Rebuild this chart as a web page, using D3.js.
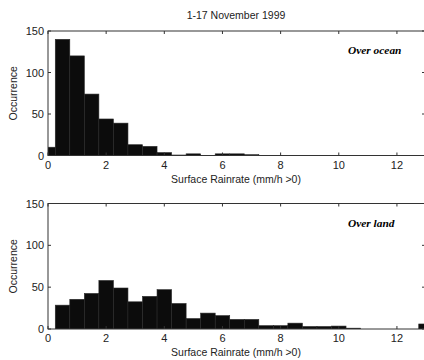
<!DOCTYPE html>
<html>
<head>
<meta charset="utf-8">
<title>Rainrate histograms</title>
<script src="https://d3js.org/d3.v7.min.js"></script>
<style>
body { margin: 0; background: #fff; }
text { font-family: "Liberation Sans", Arial, sans-serif; fill: #222; }
.note { font-family: "Liberation Serif", "Times New Roman", serif; font-weight: bold; font-style: italic; fill: #000; }
</style>
</head>
<body>
<script>
// bin centres (mm/h), bin width 0.5
const binCenters = [0, 0.5, 1, 1.5, 2, 2.5, 3, 3.5, 4, 4.5, 5, 5.5, 6, 6.5, 7, 7.5, 8, 8.5, 9, 9.5, 10, 10.5, 11, 11.5, 12, 12.5, 13]
const oceanCounts = [10, 140, 120, 74, 44, 39, 13, 11, 3.5, 0.6, 2, 0, 2, 2, 1, 0, 0, 0, 0, 0, 0, 0, 0, 0, 0, 0, 0]
const landCounts = [0, 28.5, 35.5, 42.5, 58, 49, 32.5, 39, 47, 30.5, 12.5, 19, 16, 11.5, 11.5, 4, 4, 7, 3, 3, 3.5, 1, 0, 0, 0, 0, 6]
const xTicks = [0, 2, 4, 6, 8, 10, 12]
const yTicks = [0, 50, 100, 150]
const title = "1-17 November 1999"
const xLabel = "Surface Rainrate (mm/h >0)"
const yLabel = "Occurrence"

const W = 424, H = 360
const svg = d3.select("body").append("svg").attr("width", W).attr("height", H)

const x = d3.scaleLinear().domain([0, 13]).range([48, 426])

svg.append("text").attr("x", 236).attr("y", 19).attr("text-anchor", "middle")
  .attr("font-size", 10.5).text(title)

function panel(counts, top, bottom, note, id) {
  const y = d3.scaleLinear().domain([0, 150]).range([bottom, top])
  const clip = svg.append("clipPath").attr("id", id)
  clip.append("rect").attr("x", x(0)).attr("y", top).attr("width", x(13) - x(0)).attr("height", bottom - top)

  const data = binCenters.map((c, i) => ({c: c, v: counts[i]})).filter(d => d.v > 0)
  svg.append("g").attr("clip-path", "url(#" + id + ")")
    .selectAll("rect").data(data).join("rect")
    .attr("x", d => x(d.c - 0.25))
    .attr("width", x(0.5) - x(0))
    .attr("y", d => y(d.v))
    .attr("height", d => y(0) - y(d.v))
    .attr("fill", "#0c0c0c")
    .attr("stroke", "#2a2a2a")
    .attr("stroke-width", 0.6)

  const g = svg.append("g").attr("stroke", "#333").attr("fill", "none")
  g.append("rect").attr("x", x(0)).attr("y", top).attr("width", x(13) - x(0)).attr("height", bottom - top)
    .attr("stroke-width", 1)

  // inward ticks, MATLAB-style
  xTicks.forEach(t => {
    g.append("line").attr("x1", x(t)).attr("x2", x(t)).attr("y1", bottom).attr("y2", bottom - 3)
    g.append("line").attr("x1", x(t)).attr("x2", x(t)).attr("y1", top).attr("y2", top + 3)
  })
  yTicks.forEach(t => {
    g.append("line").attr("x1", x(0)).attr("x2", x(0) + 3).attr("y1", y(t)).attr("y2", y(t))
    g.append("line").attr("x1", x(13)).attr("x2", x(13) - 4).attr("y1", y(t)).attr("y2", y(t))
  })

  svg.append("g").selectAll("text").data(xTicks).join("text")
    .attr("x", d => x(d)).attr("y", bottom + 13).attr("text-anchor", "middle")
    .attr("font-size", 11).text(d => d)
  svg.append("g").selectAll("text").data(yTicks).join("text")
    .attr("x", 44).attr("y", d => y(d) + 4).attr("text-anchor", "end")
    .attr("font-size", 11).text(d => d)

  svg.append("text").attr("x", 236).attr("y", bottom + 27).attr("text-anchor", "middle")
    .attr("font-size", 10.5).text(xLabel)
  svg.append("text").attr("transform", "translate(17," + ((top + bottom) / 2) + ") rotate(-90)")
    .attr("text-anchor", "middle").attr("font-size", 10.5).text(yLabel)

  svg.append("text").attr("class", "note").attr("x", 348).attr("y", top + 23)
    .attr("font-size", 11.4).text(note)
}

panel(oceanCounts, 31, 155.5, "Over ocean", "clipA")
panel(landCounts, 203.5, 329, "Over land", "clipB")
</script>
</body>
</html>
